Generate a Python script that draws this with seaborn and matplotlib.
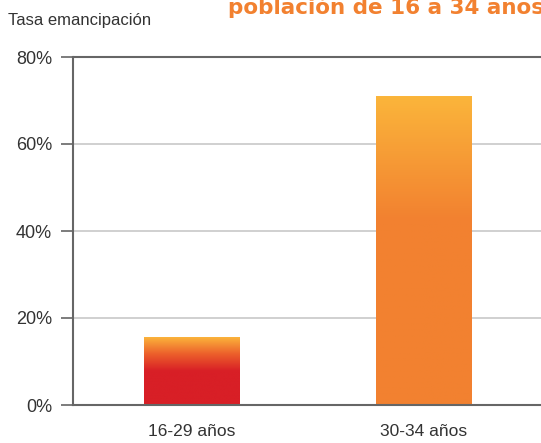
import numpy as np
import pandas as pd
import seaborn as sns
import matplotlib
matplotlib.use("Agg")
from matplotlib import pyplot as plt
from matplotlib.colors import LinearSegmentedColormap

grupos = ["16-29 años", "30-34 años"]
tasa = [15.6, 71.0]

sns.set_style("white")
plt.rcParams['font.family'] = ['Liberation Sans Narrow', 'Liberation Sans', 'DejaVu Sans']

df = pd.DataFrame({"grupo": grupos, "tasa": tasa})

fig = plt.figure(figsize=(5.41, 4.43), dpi=100)
ax = fig.add_axes([73 / 541, 38 / 443, 1 - 73 / 541, 348 / 443])

sns.barplot(data=df, x="grupo", y="tasa", color="#F28130", width=0.41, ax=ax, zorder=3)

# degradados de cada barra (abajo -> arriba)
grads = [
    LinearSegmentedColormap.from_list("g1", [(0, "#D81F26"), (0.5, "#D81F26"), (0.75, "#EC5F2B"), (1, "#FBB33B")]),
    LinearSegmentedColormap.from_list("g2", [(0, "#F28130"), (0.6, "#F28130"), (1, "#FBB53B")]),
]
for patch, cmap in zip(ax.patches, grads):
    x0, y0 = patch.get_x(), patch.get_y()
    w, h = patch.get_width(), patch.get_height()
    grad = np.linspace(0, 1, 256).reshape(-1, 1)
    im = ax.imshow(grad, cmap=cmap, origin="lower", aspect="auto",
                   extent=[x0, x0 + w, y0, y0 + h], zorder=4)
    im.set_clip_path(patch)
    patch.set_edgecolor("none")

ax.set_xlim(-0.513, 1.504)
ax.set_ylim(0, 80)
ax.set_yticks([0, 20, 40, 60, 80])
ax.set_yticklabels(["0%", "20%", "40%", "60%", "80%"])
ax.yaxis.grid(True, color="#C8C8C8", linewidth=1.2, zorder=0)
ax.axhline(80, color="#666666", linewidth=1.5, zorder=5, clip_on=False)
ax.set_xlabel("")
ax.set_ylabel("")

for s in ["top", "right"]:
    ax.spines[s].set_visible(False)
for s in ["left", "bottom"]:
    ax.spines[s].set_color("#666666")
    ax.spines[s].set_linewidth(1.5)
ax.spines["bottom"].set_zorder(6)

ax.tick_params(axis="y", which="both", left=True, length=9, width=1.2, color="#666666",
               labelsize=13, labelcolor="#333333", pad=6, direction="out")
ax.tick_params(axis="x", bottom=False, labelsize=12.5, labelcolor="#333333", pad=10)

fig.text(8 / 541, 1 - 20 / 443, "Tasa emancipación", fontsize=12, color="#333333",
         va="center", ha="left")
fig.text(228 / 541, 1 - 14 / 443, "población de 16 a 34 años", fontsize=15.5,
         fontweight="bold", color="#F28130", va="baseline", ha="left",
         family=["DejaVu Sans"])

plt.savefig("out.png", dpi=100)
